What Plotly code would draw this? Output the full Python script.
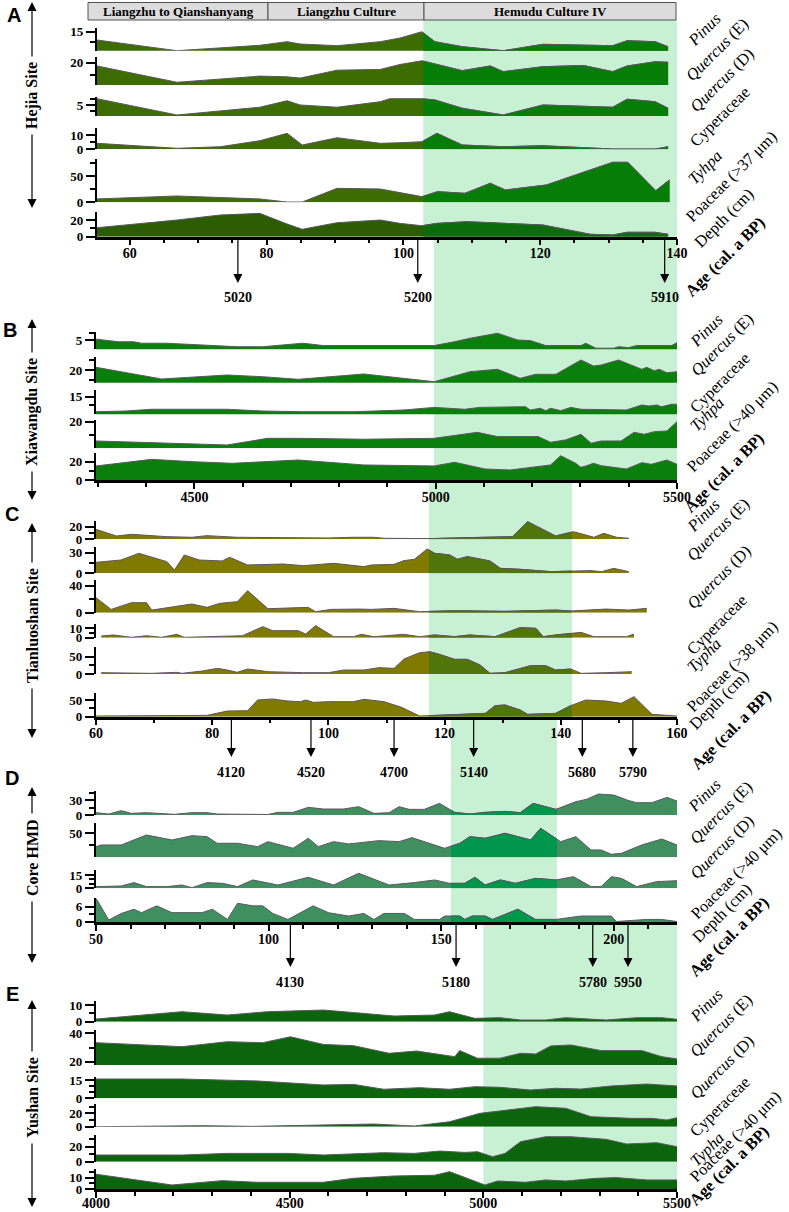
import plotly.graph_objects as go

# ======================= DATA =======================
# ---- Panel A : Hejia Site (x = depth, cm) ----
A_pinus_depth = [55.2, 66.9, 79.0, 83.0, 84.9, 90.3, 96.6, 99.5, 102.7, 104.6, 108.6, 114.6, 120.4, 130.6, 132.7, 136.8, 138.7]
A_pinus_pct = [10.85, 5.5, 8.2, 10, 8.85, 8, 10, 11.85, 15, 10, 7.5, 5.5, 8.7, 8, 10.5, 10, 7.5]
A_querE_depth = [55.2, 66.9, 79.0, 83.0, 84.9, 90.3, 96.6, 99.5, 102.7, 108.6, 112.7, 114.6, 120.4, 126.3, 130.6, 132.7, 136.8, 138.7]
A_querE_pct = [18.7, 12.1, 14.6, 14.3, 13.8, 17, 17.3, 19.3, 20.8, 16.8, 18.7, 16.4, 18.4, 18.9, 16.4, 18.7, 20.4, 20.2]
A_querD_depth = [55.2, 66.9, 79.0, 83.0, 84.9, 90.3, 96.6, 98.0, 102.7, 104.6, 108.6, 114.6, 120.4, 130.6, 132.7, 136.8, 138.7]
A_querD_pct = [7.5, 1, 4.1, 6.7, 5, 4.1, 6.3, 7.5, 7.5, 7, 3.7, 1, 5, 4.1, 7.3, 6.3, 3.7]
A_cyper_depth = [55.2, 66.9, 73.2, 79.0, 83.0, 85.2, 90.3, 96.6, 99.5, 102.7, 104.9, 108.6, 114.6, 120.4, 130.6, 136.8, 138.7]
A_cyper_pct = [4.2, 0.7, 1.8, 6, 11.2, 3, 8.1, 4.2, 4.6, 5.3, 11.2, 3, 1.8, 2.5, 0.2, 0.2, 1.8]
A_tyhpa_depth = [55.2, 66.9, 79.0, 83.0, 85.2, 90.3, 96.6, 99.5, 102.7, 105.0, 109.0, 112.7, 114.9, 120.9, 130.6, 132.8, 136.9, 138.9]
A_tyhpa_pct = [6.4, 12, 6.4, 0.5, 0.5, 26.6, 25.3, 18.3, 10.8, 20.2, 17.1, 36.1, 23.4, 32.9, 76, 76, 22.1, 42.4]
A_poac_depth = [55.2, 66.9, 73.2, 79.0, 83.0, 85.2, 90.3, 96.6, 99.5, 102.7, 104.9, 109.3, 114.9, 120.4, 127.3, 130.6, 132.7, 136.8, 138.7]
A_poac_pct = [10.8, 20, 26, 28, 15.2, 8.9, 16.8, 20, 16, 13.2, 16, 18, 16, 14, 2.9, 2, 5.3, 5.3, 2.9]
A_age_depth = [75.8, 102.1, 138.2]
A_age_label = ["5020", "5200", "5910"]
A_phase_label = ["Liangzhu to Qianshanyang", "Liangzhu Culture", "Hemudu Culture IV"]

# ---- Panel B : Xiawangdu Site (x = age, cal. a BP) ----
B_pinus_age = [4296, 4343, 4374, 4390, 4442, 4516, 4589, 4641, 4725, 4767, 4830, 4997, 5039, 5071, 5128, 5170, 5196, 5228, 5301, 5311, 5332, 5369, 5379, 5400, 5416, 5489, 5500]
B_pinus_pct = [5.3, 4.4, 4.4, 3.9, 3.9, 3.2, 2.7, 2.7, 3.9, 3.1, 3.1, 3.1, 4.4, 5.6, 7.3, 5.0, 4.8, 3.1, 3.1, 3.9, 2.2, 2.2, 2.7, 2.4, 3.1, 3.1, 4.1]
B_querE_age = [4296, 4432, 4568, 4641, 4715, 4851, 4997, 5071, 5128, 5175, 5207, 5249, 5301, 5327, 5343, 5379, 5427, 5437, 5453, 5463, 5479, 5500]
B_querE_pct = [22.7, 11, 15, 13.3, 10.7, 16, 8.3, 18.3, 20.7, 11.7, 15.7, 15.7, 30, 24, 25, 30, 20.7, 22.7, 19.3, 20.7, 17.3, 18.3]
B_cyper_age = [4296, 4358, 4411, 4568, 4641, 4725, 4830, 4934, 4997, 5018, 5060, 5091, 5186, 5196, 5217, 5228, 5238, 5259, 5280, 5301, 5353, 5395, 5427, 5442, 5458, 5468, 5489, 5500]
B_cyper_pct = [6.3, 6.7, 7.7, 7.7, 6.7, 6.3, 6.3, 7.3, 8.8, 8.3, 7.7, 8.8, 9.2, 7.3, 8.3, 6.9, 8.3, 6.9, 8.8, 7.7, 7.3, 7.3, 10.2, 9.6, 10.2, 9.2, 10.6, 10.6]
B_tyhpa_age = [4296, 4442, 4568, 4652, 4715, 4851, 4997, 5086, 5128, 5212, 5238, 5269, 5301, 5322, 5343, 5384, 5411, 5432, 5453, 5479, 5500]
B_tyhpa_pct = [5.5, 3.8, 2.5, 7.5, 7.5, 6.8, 7.5, 12, 8.8, 8.8, 4.5, 6.3, 10.5, 3.8, 5.5, 5.5, 12, 10.5, 12.5, 13, 20]
B_poac_age = [4296, 4411, 4495, 4579, 4715, 4851, 4997, 5039, 5102, 5154, 5238, 5259, 5290, 5301, 5311, 5327, 5343, 5395, 5427, 5447, 5479, 5500]
B_poac_pct = [15.3, 22.5, 20, 18.2, 21.8, 16.4, 15.3, 19.3, 12, 10.9, 16.4, 26.5, 18.2, 13.8, 15.3, 18.2, 15.6, 12, 18.9, 17.1, 21.8, 17.1]

# ---- Panel C : Tianluoshan Site (x = depth, cm) ----
C_pinus_depth = [60, 63.5, 66.1, 69.6, 72.2, 76.5, 79.1, 84.3, 90.4, 95.7, 100, 104.3, 107.8, 109.6, 117.4, 123.5, 130.4, 131.7, 134.3, 139.1, 142.2, 145.7, 147.4, 149.6, 151.7]
C_pinus_pct = [15.8, 5.3, 7.9, 5.3, 4.2, 3.2, 5.8, 3.2, 2.6, 2.6, 2.1, 3.2, 3.2, 1.6, 1.1, 2.6, 4.2, 4.2, 27.9, 5.3, 12.1, 3.2, 9.5, 3.2, 1.6]
C_querE_depth = [60, 64.3, 67.4, 72.2, 73.5, 75.2, 77.8, 81.7, 83.0, 86.1, 92.2, 95.7, 100.9, 106.1, 107.4, 111.3, 113.0, 114.8, 117.0, 118.3, 120.9, 122.2, 123.9, 127.8, 129.6, 133.0, 138.3, 142.2, 145.2, 147.0, 149.1, 151.7]
C_querE_pct = [15.9, 19.3, 29, 16.9, 4.8, 26.6, 19.3, 17.9, 23.2, 12.1, 13.5, 11.1, 14.5, 9.7, 12.1, 13, 18.4, 20.3, 35.3, 29, 26.6, 20.3, 24.2, 17.9, 7.2, 5.8, 2.4, 3.4, 3.9, 2.4, 7.2, 2.4]
C_querD_depth = [60, 62.6, 66.1, 68.7, 69.6, 73.9, 76.5, 79.1, 81.3, 84.3, 86.1, 89.6, 96.5, 97.8, 100.4, 105.2, 107.4, 111.3, 115.7, 121.7, 130.4, 139.1, 141.7, 147.8, 151.7, 154.8]
C_querD_pct = [22.2, 4.9, 14.8, 14.8, 3.9, 9.9, 12.8, 7.9, 13.8, 16.3, 32.5, 5.9, 7.9, 1.5, 4.9, 5.4, 4.9, 6.4, 1.5, 3.0, 2.0, 3.9, 2.5, 5.4, 3.9, 6.4]
C_cyper_depth = [60.9, 63.0, 66.1, 68.7, 71.3, 73.9, 75.2, 85.2, 88.7, 90.4, 94.8, 96.1, 97.8, 100.9, 104.3, 105.7, 107.8, 113.0, 115.7, 118.3, 121.7, 124.3, 128.7, 133.0, 135.7, 137.0, 139.1, 143.5, 145.7, 151.3, 152.6]
C_cyper_pct = [1.8, 2.9, 0.4, 2.1, 0.4, 3.6, 0.4, 2.1, 11.8, 7.5, 7.5, 3.9, 12.9, 1.1, 1.1, 3.6, 1.1, 3.6, 1.1, 2.9, 1.1, 2.9, 1.1, 10.7, 10, 1.1, 2.9, 5.7, 1.1, 1.1, 3.9]
C_typha_depth = [60.9, 69.6, 73.9, 74.8, 78.3, 80.9, 82.6, 84.3, 86.1, 89.6, 95.7, 100, 102.6, 106.1, 108.7, 111.3, 113.0, 115.7, 117.4, 119.1, 121.7, 123.9, 126.1, 127.8, 130.4, 134.8, 137.4, 139.1, 141.7, 143.5, 147.8, 152.2]
C_typha_pct = [3.8, 1.9, 4.8, 1.9, 8.7, 16.3, 11.5, 4.8, 14.4, 6.7, 3.8, 3.8, 11.5, 11.5, 18.3, 16.3, 43.3, 61.5, 64.4, 56.7, 42.3, 42.3, 26, 1.9, 3.8, 24, 24, 11.5, 14.4, 1.9, 3.8, 6.7]
C_poac_depth = [60, 69.6, 79.1, 82.6, 86.1, 87.8, 90.4, 93.0, 95.2, 96.1, 97.4, 100, 104.3, 106.1, 109.6, 112.6, 115.7, 127.0, 128.7, 130.4, 133.0, 134.3, 139.1, 141.7, 144.3, 147.8, 150.4, 152.6, 155.7, 160]
C_poac_pct = [2, 3, 4, 17, 18, 50, 53, 47, 45, 50, 43, 45, 45, 52, 45, 28, 2, 10, 33, 35, 20, 7, 10, 33, 50, 47, 40, 60, 7, 2]
C_age_depth = [83.3, 97.0, 111.3, 125.0, 143.7, 152.4]
C_age_label = ["4120", "4520", "4700", "5140", "5680", "5790"]

# ---- Panel D : Core HMD (x = depth, cm) ----
D_pinus_depth = [50, 53.7, 57.3, 60.2, 64.6, 69.0, 72.7, 77.8, 82.2, 85.1, 91.0, 96.8, 99.8, 102.7, 107.1, 111.5, 115.9, 121.7, 126.1, 130.5, 134.9, 137.8, 140.7, 145.1, 149.5, 153.9, 158.3, 162.7, 168.5, 172.9, 176.6, 183.2, 189.0, 192.0, 195.6, 200.0, 204.4, 206.6, 211.0, 215.4, 218.3]
D_pinus_pct = [4.7, 2, 8.7, 3.3, 4.7, 3.3, 1.3, 4.7, 4.7, 2, 1.3, 1.3, 1, 5.3, 5.3, 15.3, 12, 12, 16.7, 3.3, 4.7, 16.7, 11.3, 11.3, 23.3, 5.3, 2, 5.3, 7.3, 4.7, 23.3, 11.3, 26.7, 31.3, 42, 40, 28.7, 24.7, 24.7, 35.3, 28]
D_querE_depth = [50, 51.5, 57.3, 64.6, 72.0, 77.8, 82.2, 85.1, 91.0, 96.8, 99.8, 107.1, 111.5, 114.4, 118.8, 123.2, 132.0, 137.8, 141.5, 148.1, 151.0, 155.4, 158.3, 162.7, 168.5, 175.9, 178.8, 184.6, 189.0, 193.4, 196.3, 199.3, 202.2, 208.1, 213.9, 218.3]
D_querE_pct = [22.2, 25.7, 25.7, 46.5, 36.1, 45.1, 43, 29.2, 29.2, 22.2, 32.6, 18.8, 39.6, 22.2, 32.6, 27.8, 34.7, 32.6, 41, 25.7, 18.8, 29.2, 43, 39.6, 50, 36.1, 60.4, 32.6, 43, 15.3, 15.3, 6.3, 8.3, 25.7, 38.2, 25.7]
D_querD_depth = [50, 57.3, 61.0, 64.6, 70.5, 74.9, 77.8, 82.2, 86.6, 91.0, 95.4, 102.7, 111.5, 118.8, 126.1, 134.9, 142.2, 148.1, 152.4, 156.8, 159.8, 162.7, 167.1, 171.5, 177.3, 183.2, 188.3, 193.4, 196.3, 199.3, 202.2, 206.6, 212.4, 218.3]
D_querD_pct = [1.9, 2.6, 6.4, 1.9, 1.9, 3.7, 0.7, 6.4, 5.6, 1.9, 9.4, 3.7, 12.4, 3.7, 16.9, 3.7, 6.4, 9.4, 5.6, 5.6, 12.4, 3.7, 9.4, 5.6, 11.2, 9.4, 13.1, 1.9, 1.9, 13.1, 11.2, 1.9, 7.5, 8.6]
D_poac_depth = [50, 53.7, 57.3, 61.0, 63.2, 67.6, 72.0, 80.7, 83.7, 88.1, 91.0, 95.4, 98.3, 101.2, 105.6, 112.9, 117.3, 123.2, 127.6, 130.5, 133.4, 139.3, 142.2, 149.5, 151.0, 155.4, 156.8, 159.0, 162.7, 164.9, 172.2, 177.3, 183.2, 190.5, 199.3, 200.7, 209.5, 213.9, 218.3]
D_poac_pct = [9.2, 0.9, 3.4, 5, 3.7, 6.3, 3.7, 3.7, 5, 1.1, 7.3, 6.3, 6.3, 3.4, 1.1, 6.3, 3.7, 2.4, 3.4, 1.1, 3.4, 3.4, 1.1, 1.1, 2.4, 2.4, 1.1, 2.4, 2.4, 1.1, 5, 1.1, 1.1, 2.4, 2.4, 0.3, 1.1, 1.1, 0.3]
D_age_depth = [106.3, 154.3, 193.9, 204.1]
D_age_label = ["4130", "5180", "5780", "5950"]

# ---- Panel E : Yushan Site (x = age, cal. a BP) ----
E_pinus_age = [4000, 4222, 4339, 4443, 4587, 4770, 4874, 4913, 4978, 5043, 5096, 5161, 5213, 5317, 5396, 5461, 5500]
E_pinus_pct = [1.6, 6, 4, 6, 7, 3.4, 4, 6, 2, 2.4, 1, 1, 2.4, 1, 2.4, 2.4, 1.4]
E_querE_age = [4000, 4222, 4339, 4430, 4502, 4587, 4665, 4757, 4828, 4926, 4939, 4985, 5043, 5096, 5135, 5174, 5226, 5304, 5409, 5461, 5500]
E_querE_pct = [33.4, 30.6, 34.1, 33.4, 37.6, 32.2, 31.3, 25.9, 27.5, 23.5, 27.8, 22.4, 22.4, 25.9, 25.4, 31.1, 31.8, 27.8, 27.8, 23.5, 21.9]
E_querD_age = [4000, 4222, 4417, 4587, 4665, 4743, 4835, 4913, 4978, 5043, 5122, 5187, 5252, 5330, 5422, 5500]
E_querD_pct = [15.8, 15.8, 14.2, 10.9, 11.4, 7.4, 8.7, 7.4, 9.5, 9, 6.8, 8.2, 7.6, 10.1, 11.7, 10.1]
E_cyper_age = [4000, 4130, 4274, 4404, 4587, 4717, 4822, 4913, 4991, 5070, 5135, 5213, 5278, 5383, 5435, 5474, 5500]
E_cyper_pct = [0, 1, 1.5, 0.5, 2.5, 4, 1, 7.5, 20, 25, 30, 27.5, 15, 12.5, 12.5, 10, 13.5]
E_typha_age = [4000, 4222, 4339, 4496, 4587, 4743, 4822, 4887, 4952, 4985, 5024, 5056, 5096, 5161, 5226, 5317, 5370, 5448, 5500]
E_typha_pct = [8.9, 8.9, 11.1, 11.1, 8.9, 12, 11.1, 14.2, 12.4, 13.3, 6.7, 11.1, 26.7, 33.3, 33.3, 29.8, 23.6, 25.3, 20]
E_poac_age = [4000, 4196, 4326, 4417, 4587, 4665, 4770, 4874, 4913, 4965, 5004, 5037, 5109, 5161, 5213, 5291, 5343, 5422, 5500]
E_poac_pct = [12.9, 3.7, 7.4, 6, 6, 9.4, 11.4, 12, 15.1, 8.9, 3.7, 7.1, 6, 8, 7.1, 9.4, 10, 8, 8]

# ======================= LAYOUT HELPERS =======================
W, H = 789, 1212
SERIF = "Liberation Serif"
SANS = "Liberation Sans"
LINE = "#5e5566"
SHADE = "#c8f0d2"
LABEL_DX, LABEL_DY = -4, 6   # compensation for rotated-label bounding boxes


def PX(x):
    return x / W


def PY(y):
    return 1 - y / H


panels = [
    dict(letter="A", letter_xy=(14, 15), site="Hejia Site", site_arrow=(2, 95, 208),
         xrange=[55.2, 140], xpx=(97, 677), dtick=20, tick0=60, minor=5, standoff=-4,
         shade=(102.9, 140), shade_y=(20, 236.7),
         rows=[
             (A_pinus_depth, A_pinus_pct, [5.5, 16.7], (28.3, 50.7), [15], [10]),
             (A_querE_depth, A_querE_pct, [11, 22.2], (57.3, 85), [20], [15]),
             (A_querD_depth, A_querD_pct, [0.6, 8.3], (96.7, 116), [5], [2.5, 7.5]),
             (A_cyper_depth, A_cyper_pct, [0, 14.7], (128.3, 149.3), [0, 10], [5]),
             (A_tyhpa_depth, A_tyhpa_pct, [0, 81.7], (159.3, 202.3), [0, 50], [25, 75]),
             (A_poac_depth, A_poac_pct, [0, 30], (211.7, 236.7), [0, 20], [10]),
         ],
         out_colors=["#3d6c03"] * 5 + ["#2d5d02"],
         in_colors=["#067d06"] * 5 + ["#0b6c0b"],
         arrows=(A_age_depth, A_age_label, 283, 297),
         labels=[("<i>Pinus</i>", 685, 47), ("<i>Quercus</i> (E)", 683, 82),
                 ("<i>Quercus</i> (D)", 687, 113), ("Cyperaceae", 687, 147),
                 ("<i>Tyhpa</i>", 685, 185), ("Poaceae (>37 μm)", 683, 223),
                 ("Depth (cm)", 692, 248), ("<b>Age (cal. a BP)</b>", 683, 297)]),
    dict(letter="B", letter_xy=(10, 330), site="Xiawangdu Site", site_arrow=(319, 412, 500),
         xrange=[4296, 5500], xpx=(96, 677), dtick=500, tick0=4500, minor=100, standoff=-4,
         shade=(4996, 5500), shade_y=(236.7, 480),
         rows=[
             (B_pinus_age, B_pinus_pct, [1.82, 7.84], (331.7, 349.3), [5], [7.5]),
             (B_querE_age, B_querE_pct, [7.3, 32.7], (357.3, 382.7), [20], [10, 30]),
             (B_cyper_age, B_cyper_pct, [4.8, 18.85], (390, 414.3), [15], [10]),
             (B_tyhpa_age, B_tyhpa_pct, [0, 21.25], (420, 448.3), [20], [10]),
             (B_poac_age, B_poac_pct, [0, 29.1], (453.3, 480), [0, 20], [10]),
         ],
         out_colors=["#0b7f0b"] * 5, in_colors=None, arrows=None,
         labels=[("<i>Pinus</i>", 687, 348), ("<i>Quercus</i> (E)", 688, 377),
                 ("Cyperaceae", 687, 413), ("<i>Tyhpa</i>", 687, 432),
                 ("Poaceae (>40 μm)", 684, 473), ("<b>Age (cal. a BP)</b>", 682, 513)]),
    dict(letter="C", letter_xy=(12, 514), site="Tianluoshan Site", site_arrow=(523, 625, 738),
         xrange=[60, 160], xpx=(96, 677), dtick=20, tick0=60, minor=10, standoff=-4,
         shade=(117.3, 141.9), shade_y=(480, 716.7),
         rows=[
             (C_pinus_depth, C_pinus_pct, [0, 29.5], (520.7, 539.3), [0, 20], [10]),
             (C_querE_depth, C_querE_pct, [0, 38.6], (546.7, 573.3), [0, 30], [15]),
             (C_querD_depth, C_querD_pct, [0, 48.3], (580, 612.7), [0, 40], [20]),
             (C_cyper_depth, C_cyper_pct, [0, 14.6], (624, 637.7), [0, 10], [5]),
             (C_typha_depth, C_typha_pct, [0, 78.8], (646.7, 674), [0, 50], [25]),
             (C_poac_depth, C_poac_pct, [0, 70], (693.3, 716.7), [0, 50], [25]),
         ],
         out_colors=["#807a00"] * 6, in_colors=["#50750a"] * 6,
         arrows=(C_age_depth, C_age_label, 757, 772),
         labels=[("<i>Pinus</i>", 684, 533), ("<i>Quercus</i> (E)", 684, 562),
                 ("<i>Quercus</i> (D)", 684, 610), ("Cyperaceae", 684, 655),
                 ("<i>Typha</i>", 684, 673), ("Poaceae (>38 μm)", 684, 713),
                 ("Depth (cm)", 687, 730), ("<b>Age (cal. a BP)</b>", 689, 770)]),
    dict(letter="D", letter_xy=(12, 778), site="Core HMD", site_arrow=(787, 857, 963),
         xrange=[50, 218.3], xpx=(96, 677), dtick=50, tick0=50, minor=10, standoff=-4,
         shade=(152.8, 183.5), shade_y=(716.7, 922.3),
         rows=[
             (D_pinus_depth, D_pinus_pct, [0, 48.7], (790.7, 815), [0, 30], [15, 45]),
             (D_querE_depth, D_querE_pct, [0, 70.8], (823.3, 857.3), [50], [25]),
             (D_querD_depth, D_querD_pct, [0, 20.6], (870, 888.3), [0, 15], [5, 10]),
             (D_poac_depth, D_poac_pct, [0, 9.2], (898.3, 922.3), [0, 6], [3]),
         ],
         out_colors=["#3f8f5f"] * 4, in_colors=["#00964c"] * 4,
         arrows=(D_age_depth, D_age_label, 967, 982),
         labels=[("<i>Pinus</i>", 685, 813), ("<i>Quercus</i> (E)", 687, 845),
                 ("<i>Quercus</i> (D)", 687, 880), ("Poaceae (>40 μm)", 688, 920),
                 ("Depth (cm)", 690, 943), ("<b>Age (cal. a BP)</b>", 687, 977)]),
    dict(letter="E", letter_xy=(12, 994), site="Yushan Site", site_arrow=(1000, 1097, 1207),
         xrange=[4000, 5500], xpx=(96, 677), dtick=500, tick0=4000, minor=100, standoff=-7,
         shade=(5000, 5500), shade_y=(922.3, 1189.3),
         rows=[
             (E_pinus_age, E_pinus_pct, [0, 12.6], (1000.7, 1021.7), [0, 10], [5]),
             (E_querE_age, E_querE_pct, [17.6, 42.4], (1030, 1065), [20, 40], [30]),
             (E_querD_age, E_querD_pct, [0, 17.2], (1077.3, 1098.3), [0, 15], [5, 10]),
             (E_cyper_age, E_cyper_pct, [0, 34], (1104, 1126.7), [0, 20], [10, 30]),
             (E_typha_age, E_typha_pct, [0, 35.6], (1135, 1161.7), [0, 20], [10, 30]),
             (E_poac_age, E_poac_pct, [0, 17.1], (1169.3, 1189.3), [0, 10], [5, 15]),
         ],
         out_colors=["#0c650c"] * 6, in_colors=None, arrows=None,
         labels=[("<i>Pinus</i>", 687, 1023), ("<i>Quercus</i> (E)", 687, 1058),
                 ("<i>Quercus</i> (D)", 687, 1100), ("Cyperaceae", 687, 1137),
                 ("<i>Typha</i>", 687, 1167), ("Poaceae (>40 μm)", 687, 1183),
                 ("<b>Age (cal. a BP)</b>", 687, 1206)]),
]

fig = go.Figure()
layout_axes = {}
annotations = []
shapes = []
counters = {"x": 0, "y": 0}


def new_axis(kind):
    counters[kind] += 1
    n = counters[kind]
    ref = kind if n == 1 else f"{kind}{n}"
    key = f"{kind}axis" if n == 1 else f"{kind}axis{n}"
    return ref, key


tickfont_y = dict(family=SERIF, size=13, color="black", weight="bold")
tickfont_x = dict(family=SERIF, size=14, color="black", weight="bold")

for P in panels:
    xref, xkey = new_axis("x")
    r0, r1 = P["xrange"]
    d0, d1 = PX(P["xpx"][0]), PX(P["xpx"][1])

    def to_paper(v, r0=r0, r1=r1, d0=d0, d1=d1):
        return d0 + (v - r0) / (r1 - r0) * (d1 - d0)

    s0, s1 = P["shade"]
    shapes.append(dict(type="rect", xref="paper", yref="paper", layer="below",
                       x0=to_paper(s0), x1=to_paper(s1),
                       y0=PY(P["shade_y"][1]), y1=PY(P["shade_y"][0]),
                       fillcolor=SHADE, line=dict(width=0)))

    sref = None
    if P["in_colors"]:
        sref, skey = new_axis("x")

    yrefs = []
    for i, (xs, ys, yr, (top, bot), major, minor) in enumerate(P["rows"]):
        yref, ykey = new_axis("y")
        yrefs.append(yref)
        layout_axes[ykey] = dict(
            domain=[PY(bot), PY(top)], range=yr, anchor=xref,
            showline=True, linecolor="black", linewidth=2.2,
            ticks="outside", ticklen=9, tickwidth=2, tickcolor="black",
            tickmode="array", tickvals=major, ticktext=[str(v) for v in major],
            tickfont=tickfont_y,
            minor=dict(tickmode="array", tickvals=minor, ticks="outside",
                       ticklen=5, tickwidth=1.6, tickcolor="black"),
            showgrid=False, zeroline=False, automargin=False, fixedrange=True)
        fig.add_trace(go.Scatter(
            x=xs, y=ys, xaxis=xref, yaxis=yref, mode="lines", fill="tozeroy",
            fillcolor=P["out_colors"][i], line=dict(color=LINE, width=1),
            hoverinfo="skip", showlegend=False))
        if sref:
            fig.add_trace(go.Scatter(
                x=xs, y=ys, xaxis=sref, yaxis=yref, mode="lines", fill="tozeroy",
                fillcolor=P["in_colors"][i], line=dict(color=LINE, width=1),
                hoverinfo="skip", showlegend=False))

    bottom_y = yrefs[-1]
    layout_axes[xkey] = dict(
        domain=[d0, d1], range=[r0, r1], anchor=bottom_y,
        showline=True, linecolor="black", linewidth=2.5,
        ticks="outside", ticklen=6, tickwidth=2, tickcolor="black",
        tick0=P["tick0"], dtick=P["dtick"], tickfont=tickfont_x,
        ticklabelstandoff=P["standoff"],
        minor=dict(dtick=P["minor"], tick0=0, ticks="outside", ticklen=4,
                   tickwidth=1.6, tickcolor="black"),
        showgrid=False, zeroline=False, automargin=False, fixedrange=True)
    if sref:
        layout_axes[skey] = dict(
            domain=[to_paper(s0), to_paper(s1)], range=[s0, s1], anchor=bottom_y,
            visible=False, showgrid=False, zeroline=False, fixedrange=True)

    if P["arrows"]:
        depths, labs, tip, laby = P["arrows"]
        axis_y = P["rows"][-1][3][1]
        for dv, lab in zip(depths, labs):
            annotations.append(dict(x=dv, y=PY(tip), xref=xref, yref="paper",
                                    ax=0, ay=-(tip - axis_y), axref="pixel", ayref="pixel",
                                    text="", showarrow=True, arrowhead=2, arrowsize=1.5,
                                    arrowwidth=1.2, arrowcolor="black", standoff=0))
            annotations.append(dict(x=dv, y=PY(laby), xref=xref, yref="paper",
                                    text=f"<b>{lab}</b>", showarrow=False,
                                    xanchor="center", yanchor="middle",
                                    font=dict(family=SERIF, size=14, color="black")))

    for txt, lx, by in P["labels"]:
        annotations.append(dict(x=PX(lx + LABEL_DX), y=PY(by + LABEL_DY), xref="paper", yref="paper",
                                text=txt, showarrow=False, textangle=-45,
                                xanchor="left", yanchor="bottom",
                                font=dict(family=SERIF, size=16.5, color="black")))

    top_tip, mid, bot_tip = P["site_arrow"]
    annotations.append(dict(x=PX(32), y=PY(top_tip), xref="paper", yref="paper",
                            ax=0, ay=(mid - top_tip), text="", showarrow=True,
                            arrowhead=2, arrowsize=1.5, arrowwidth=1.2, arrowcolor="black"))
    annotations.append(dict(x=PX(32), y=PY(bot_tip), xref="paper", yref="paper",
                            ax=0, ay=-(bot_tip - mid), text="", showarrow=True,
                            arrowhead=2, arrowsize=1.5, arrowwidth=1.2, arrowcolor="black"))
    annotations.append(dict(x=PX(32), y=PY(mid), xref="paper", yref="paper",
                            text=f"<b>{P['site']}</b>", showarrow=False, textangle=-90,
                            bgcolor="white", borderpad=5,
                            xanchor="center", yanchor="middle",
                            font=dict(family=SERIF, size=16, color="black")))

    lx, ly = P["letter_xy"]
    annotations.append(dict(x=PX(lx), y=PY(ly), xref="paper", yref="paper",
                            text=f"<b>{P['letter']}</b>", showarrow=False,
                            xanchor="center", yanchor="middle",
                            font=dict(family=SANS, size=20, color="black")))

phase_px = [(88, 268), (268, 424), (424, 676)]
for (bx0, bx1), lab in zip(phase_px, A_phase_label):
    shapes.append(dict(type="rect", xref="paper", yref="paper", layer="above",
                       x0=PX(bx0), x1=PX(bx1), y0=PY(20), y1=PY(2.5),
                       fillcolor="#dcdcdc", line=dict(color="#505050", width=1)))
    annotations.append(dict(x=PX((bx0 + bx1) / 2), y=PY(11.5), xref="paper", yref="paper",
                            text=f"<b>{lab}</b>", showarrow=False,
                            xanchor="center", yanchor="middle",
                            font=dict(family=SERIF, size=13, color="black")))

fig.update_layout(
    width=W, height=H, margin=dict(l=0, r=0, t=0, b=0, pad=0),
    paper_bgcolor="white", plot_bgcolor="rgba(0,0,0,0)",
    showlegend=False, annotations=annotations, shapes=shapes,
    **layout_axes)

fig.write_html("out.html", config={"displayModeBar": False},
               post_script="document.body.style.margin='0px';document.body.style.overflow='hidden';")
